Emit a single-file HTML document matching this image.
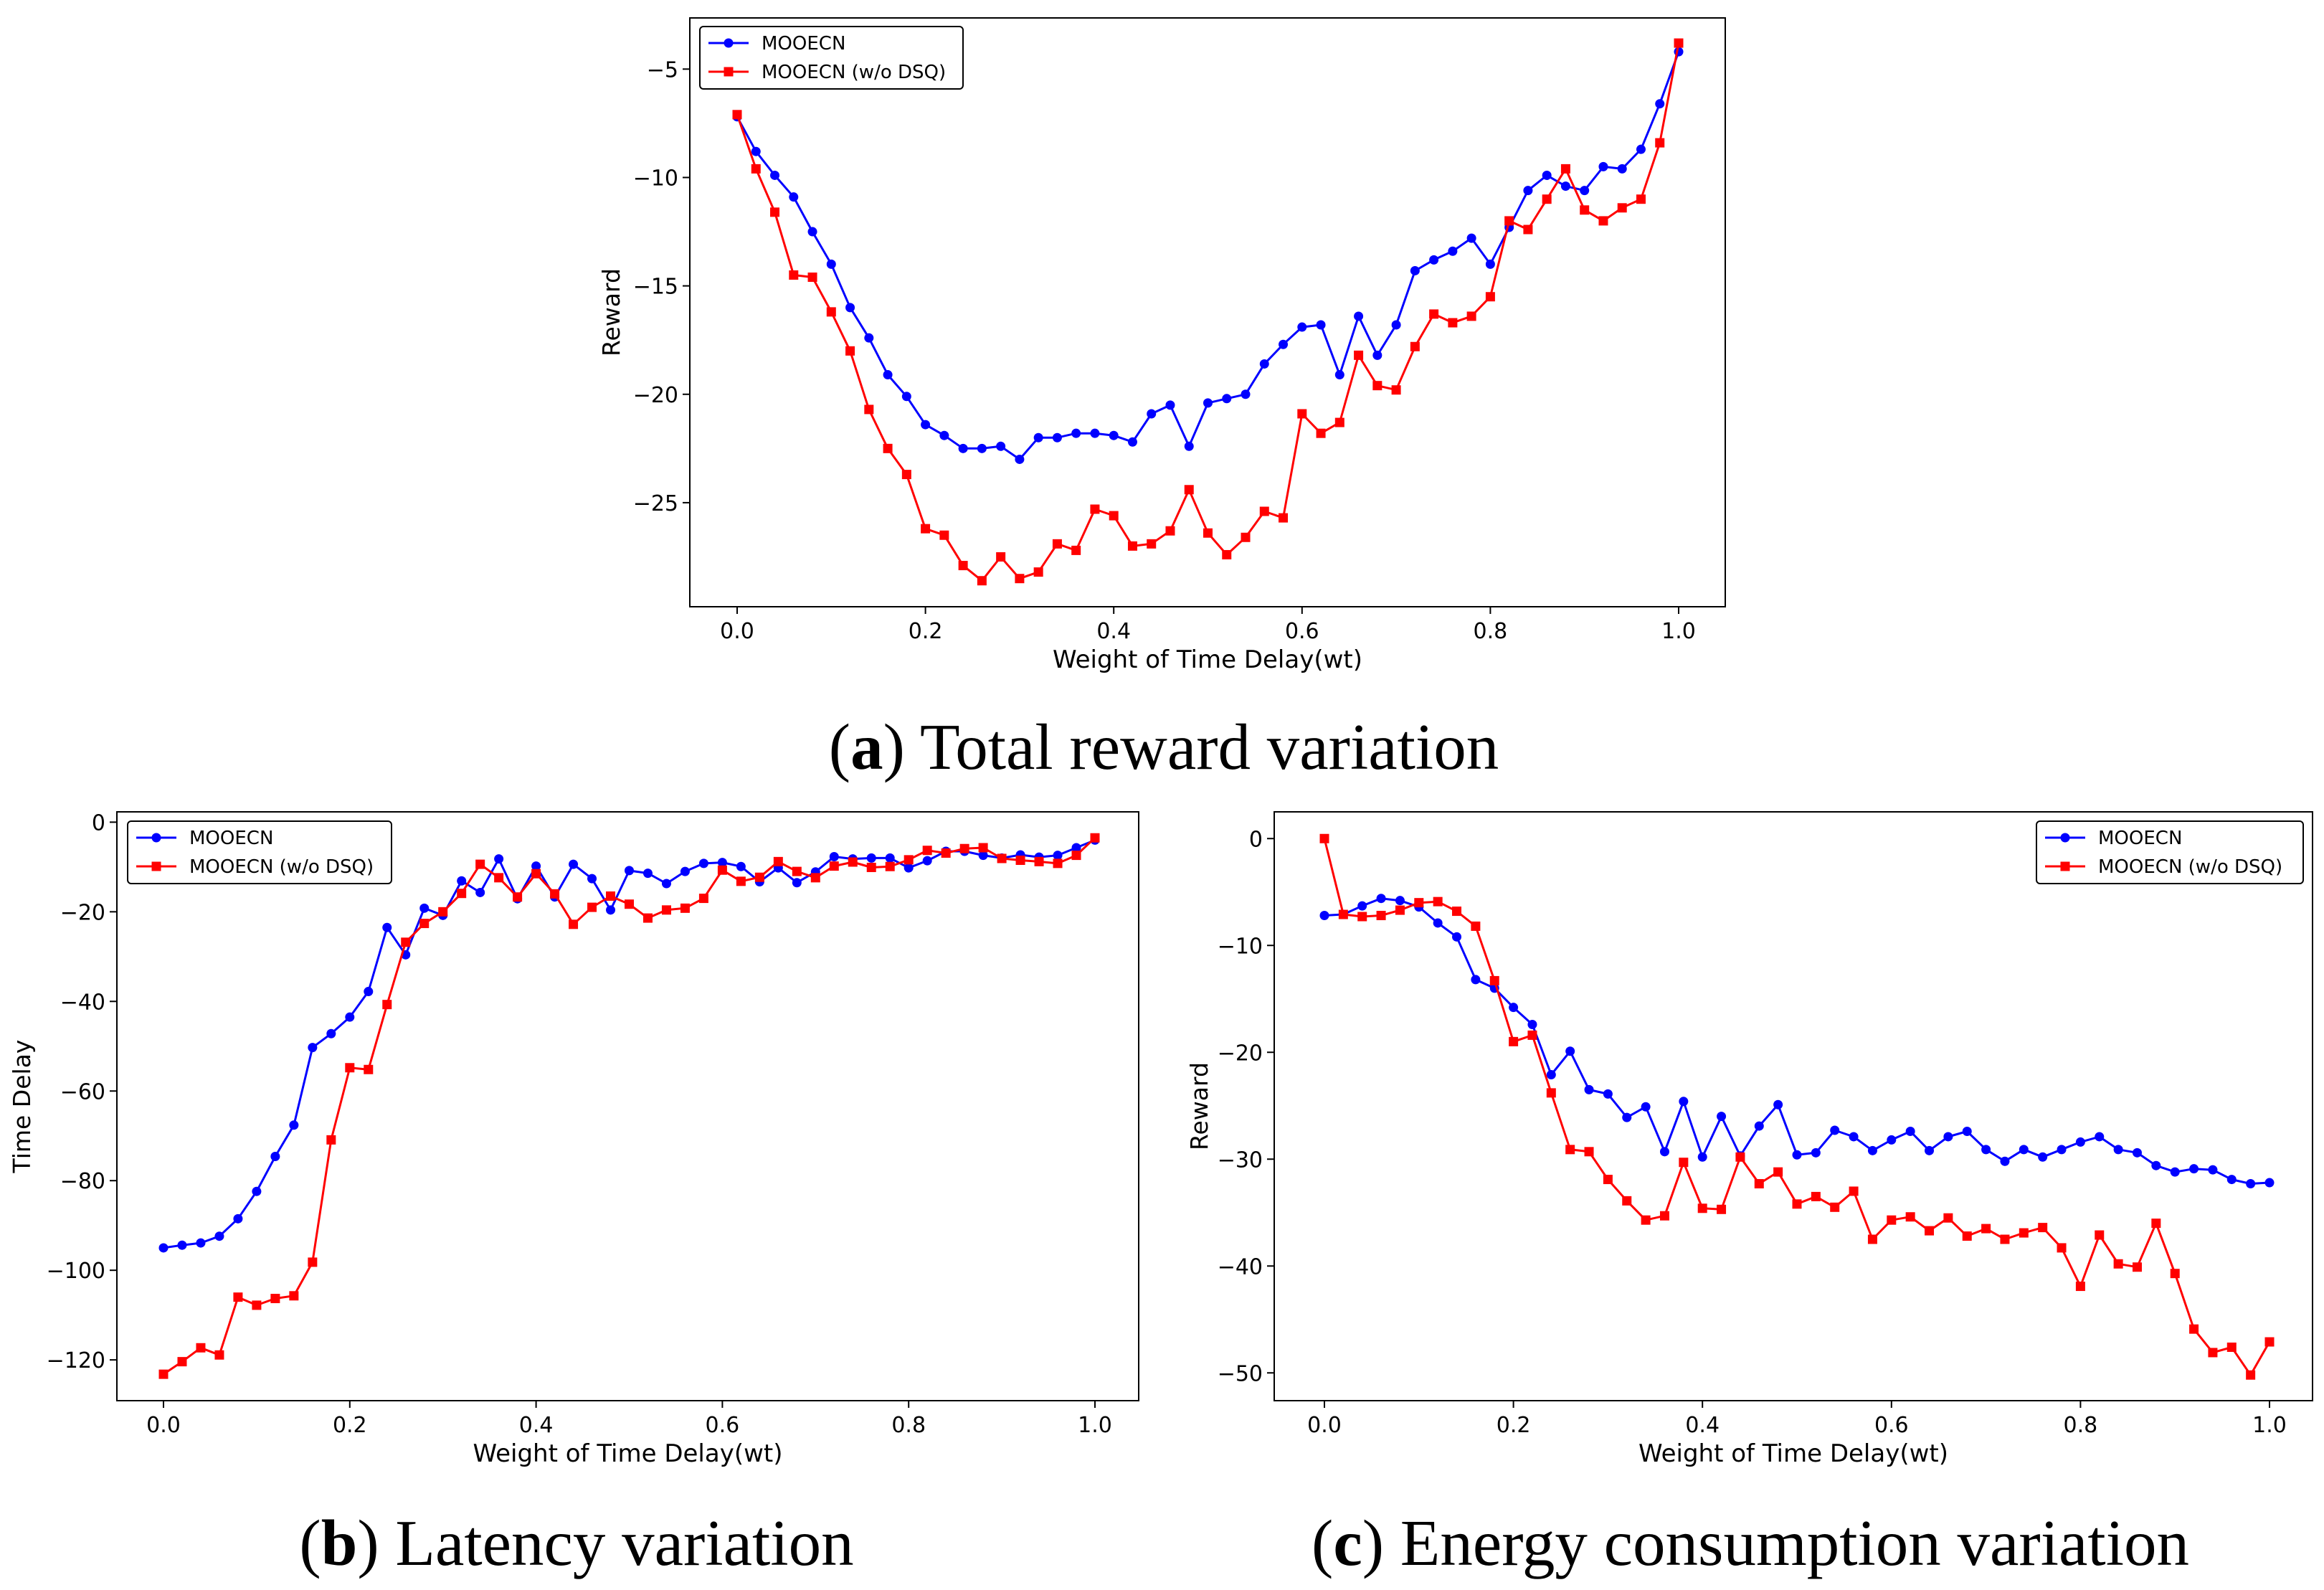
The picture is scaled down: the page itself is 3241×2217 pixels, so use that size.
<!DOCTYPE html>
<html><head><meta charset="utf-8"><style>
html,body{margin:0;padding:0;background:#fff;}
svg{display:block;}
</style></head><body>
<svg id="fig" width="3241" height="2217" viewBox="0 0 3241 2217" xmlns="http://www.w3.org/2000/svg">
<text x="1623" y="1072" text-anchor="middle" font-family="Liberation Serif, serif" font-size="91">(<tspan font-weight="bold">a</tspan>) Total reward variation</text>
<text x="804" y="2182" text-anchor="middle" font-family="Liberation Serif, serif" font-size="91">(<tspan font-weight="bold">b</tspan>) Latency variation</text>
<text x="2441" y="2182" text-anchor="middle" font-family="Liberation Serif, serif" font-size="91">(<tspan font-weight="bold">c</tspan>) Energy consumption variation</text>
</svg>
<script>
const xValues = Array.from({length:51},(_,i)=>i*0.02);
const xTicks = [0,0.2,0.4,0.6,0.8,1.0];
const xTickLabels = ["0.0","0.2","0.4","0.6","0.8","1.0"];

const rewardBlue = [-7.2,-8.8,-9.9,-10.9,-12.5,-14.0,-16.0,-17.4,-19.1,-20.1,-21.4,-21.9,-22.5,-22.5,-22.4,-23.0,-22.0,-22.0,-21.8,-21.8,-21.9,-22.2,-20.9,-20.5,-22.4,-20.4,-20.2,-20.0,-18.6,-17.7,-16.9,-16.8,-19.1,-16.4,-18.2,-16.8,-14.3,-13.8,-13.4,-12.8,-14.0,-12.3,-10.6,-9.9,-10.4,-10.6,-9.5,-9.6,-8.7,-6.6,-4.2];
const rewardRed = [-7.1,-9.6,-11.6,-14.5,-14.6,-16.2,-18.0,-20.7,-22.5,-23.7,-26.2,-26.5,-27.9,-28.6,-27.5,-28.5,-28.2,-26.9,-27.2,-25.3,-25.6,-27.0,-26.9,-26.3,-24.4,-26.4,-27.4,-26.6,-25.4,-25.7,-20.9,-21.8,-21.3,-18.2,-19.6,-19.8,-17.8,-16.3,-16.7,-16.4,-15.5,-12.0,-12.4,-11.0,-9.6,-11.5,-12.0,-11.4,-11.0,-8.4,-3.8];
const rewardTicks = [-5,-10,-15,-20,-25];

const delayBlue = [-95,-94.4,-93.9,-92.4,-88.5,-82.4,-74.6,-67.6,-50.3,-47.2,-43.5,-37.8,-23.5,-29.6,-19.2,-20.8,-13.1,-15.7,-8.2,-17.1,-9.8,-16.7,-9.4,-12.6,-19.6,-10.8,-11.4,-13.7,-11.0,-9.2,-9.0,-9.9,-13.3,-10.2,-13.5,-11.1,-7.7,-8.2,-8.0,-8.0,-10.2,-8.6,-6.5,-6.5,-7.4,-8.0,-7.3,-7.8,-7.4,-5.7,-4.0];
const delayRed = [-123.2,-120.4,-117.3,-118.9,-106,-107.8,-106.3,-105.7,-98.2,-70.9,-54.8,-55.2,-40.7,-26.8,-22.6,-20.0,-15.9,-9.4,-12.4,-16.7,-11.5,-16.0,-22.8,-19.0,-16.5,-18.3,-21.4,-19.6,-19.2,-17.0,-10.7,-13.2,-12.3,-8.8,-11.0,-12.4,-9.8,-8.9,-10.1,-9.9,-8.4,-6.3,-6.9,-5.9,-5.7,-8.1,-8.5,-8.8,-9.2,-7.4,-3.5];
const delayTicks = [0,-20,-40,-60,-80,-100,-120];

const energyBlue = [-7.2,-7.1,-6.3,-5.6,-5.8,-6.4,-7.9,-9.2,-13.2,-14.0,-15.8,-17.4,-22.1,-19.9,-23.5,-23.9,-26.1,-25.1,-29.3,-24.6,-29.8,-26.0,-29.7,-26.9,-24.9,-29.6,-29.4,-27.3,-27.9,-29.2,-28.2,-27.4,-29.2,-27.9,-27.4,-29.1,-30.2,-29.1,-29.8,-29.1,-28.4,-27.9,-29.1,-29.4,-30.6,-31.2,-30.9,-31.0,-31.9,-32.3,-32.2];
const energyRed = [0,-7.1,-7.3,-7.2,-6.7,-6.0,-5.9,-6.8,-8.2,-13.3,-19.0,-18.4,-23.8,-29.1,-29.3,-31.9,-33.9,-35.7,-35.3,-30.3,-34.6,-34.7,-29.8,-32.3,-31.2,-34.2,-33.5,-34.5,-33.0,-37.5,-35.7,-35.4,-36.7,-35.5,-37.2,-36.5,-37.5,-36.9,-36.4,-38.3,-41.9,-37.1,-39.8,-40.1,-36.0,-40.7,-45.9,-48.1,-47.6,-50.2,-47.1];
const energyTicks = [0,-10,-20,-30,-40,-50];

const NS="http://www.w3.org/2000/svg";
const svg=document.getElementById('fig');
function mk(tag,attrs,parent){const e=document.createElementNS(NS,tag);for(const k in attrs)e.setAttribute(k,attrs[k]);(parent||svg).appendChild(e);return e;}
function fmt(v){return v<0?'\u2212'+Math.abs(v):String(v);}

function chart(id,box,yMin,yMax,yTicks,blue,red,ylabel,legend){
  const g=mk('g',{});
  
  
  const xs=v=>box.x0+(v-0)*(box.x1-box.x0);
  const ys=v=>box.bottom-(v-yMin)/(yMax-yMin)*(box.bottom-box.top);
  const frame=mk('rect',{x:box.left,y:box.top,width:box.right-box.left,height:box.bottom-box.top,fill:'none',stroke:'#000','stroke-width':2},g);
  
  
  xTicks.forEach((t,i)=>{
    const x=xs(t);
    mk('line',{x1:x,x2:x,y1:box.bottom,y2:box.bottom+10,stroke:'#000','stroke-width':2},g);
    const tx=mk('text',{x:x,y:box.bottom+44,'text-anchor':'middle','font-family':'DejaVu Sans, sans-serif','font-size':30},g);
    
    
    tx.textContent=xTickLabels[i];
  });
  yTicks.forEach(t=>{
    const y=ys(t);
    mk('line',{x1:box.left-10,x2:box.left,y1:y,y2:y,stroke:'#000','stroke-width':2},g);
    const tx=mk('text',{x:box.left-16,y:y+11,'text-anchor':'end','font-family':'DejaVu Sans, sans-serif','font-size':30},g);
    
    
    tx.textContent=fmt(t);
  });
  const xl=mk('text',{x:(box.left+box.right)/2,y:box.bottom+85,'text-anchor':'middle','font-family':'DejaVu Sans, sans-serif','font-size':34},g);
  
  
  xl.textContent='Weight of Time Delay(wt)';
  const yl=mk('text',{x:0,y:0,'text-anchor':'middle','font-family':'DejaVu Sans, sans-serif','font-size':33,transform:`translate(${box.ylx},${(box.top+box.bottom)/2}) rotate(-90)`},g);
  
  
  yl.textContent=ylabel;
  function series(vals,color,shape,name){
    const pts=vals.map((v,i)=>xs(xValues[i]).toFixed(1)+','+ys(v).toFixed(1)).join(' ');
    const pl=mk('polyline',{points:pts,fill:'none',stroke:color,'stroke-width':3,'stroke-linejoin':'round'},g);
    
    
    vals.forEach((v,i)=>{
      const cx=xs(xValues[i]),cy=ys(v);
      let m;
      if(shape==='c') m=mk('circle',{cx:cx,cy:cy,r:6.5,fill:color},g);
      else m=mk('rect',{x:cx-6.5,y:cy-6.5,width:13,height:13,fill:color},g);
      
      
    });
  }
  series(blue,'#0000ff','c','mooecn');
  series(red,'#ff0000','s','mooecn-wo-dsq');
  const L=legend;
  const lg=mk('g',{},g);
  
  
  mk('rect',{x:L.x,y:L.y,width:L.w,height:87,rx:5,fill:'#fff',stroke:'#000','stroke-width':2},lg);
  [['MOOECN','#0000ff','c'],['MOOECN (w/o DSQ)','#ff0000','s']].forEach((it,k)=>{
    const cy=L.y+23+k*40;
    mk('line',{x1:L.x+12,x2:L.x+68,y1:cy,y2:cy,stroke:it[1],'stroke-width':3},lg);
    if(it[2]==='c') mk('circle',{cx:L.x+40,cy:cy,r:6.5,fill:it[1]},lg);
    else mk('rect',{x:L.x+33.5,y:cy-6.5,width:13,height:13,fill:it[1]},lg);
    const t=mk('text',{x:L.x+86,y:cy+9,'font-family':'DejaVu Sans, sans-serif','font-size':26},lg);
    
    
    t.textContent=it[0];
  });
}

chart('reward',{left:962,right:2406,top:25,bottom:846,x0:1028,x1:2341,ylx:864},-29.8,-2.64,rewardTicks,rewardBlue,rewardRed,'Reward',{x:976,y:37,w:367});
chart('latency',{left:163,right:1588,top:1132,bottom:1953,x0:228,x1:1527,ylx:42},-129.1,2.3,delayTicks,delayBlue,delayRed,'Time Delay',{x:178,y:1145,w:368});
chart('energy',{left:1777,right:3225,top:1132,bottom:1953,x0:1847,x1:3165,ylx:1684},-52.6,2.5,energyTicks,energyBlue,energyRed,'Reward',{x:2840,y:1145,w:372});
</script>
</body></html>
